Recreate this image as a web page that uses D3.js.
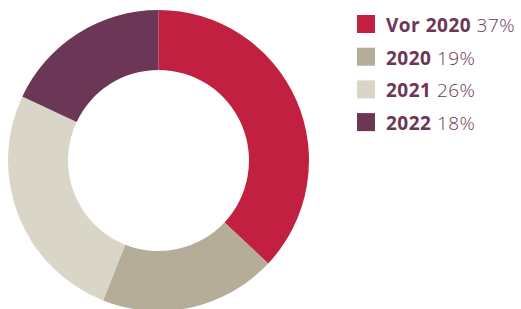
<!DOCTYPE html>
<html>
<head>
<meta charset="utf-8">
<script src="https://cdn.jsdelivr.net/npm/d3@7"></script>
<style>
  body { margin: 0; background: #fff; }
  svg { display: block; }
</style>
</head>
<body>
<script>
// categories and shares in percent
const labels = ["Vor 2020", "2020", "2021", "2022"];
const values = [37, 19, 26, 18];
const colors = ["#c12041", "#b5ad97", "#d9d5c7", "#6c3656"];

const width = 521, height = 309;
const cx = 158.5, cy = 160.5;
const outerR = 150.5, innerR = 90.5;

const svg = d3.select("body").append("svg")
  .attr("width", width)
  .attr("height", height);

const pie = d3.pie().sort(null).value(d => d);
const arc = d3.arc().innerRadius(innerR).outerRadius(outerR);

svg.append("g")
  .attr("transform", "translate(" + cx + "," + cy + ")")
  .selectAll("path")
  .data(pie(values))
  .join("path")
  .attr("d", arc)
  .attr("fill", (d, i) => colors[i]);

// legend
const legend = svg.append("g").attr("transform", "translate(357,15)");
const rows = legend.selectAll("g")
  .data(labels)
  .join("g")
  .attr("transform", (d, i) => "translate(0," + (i * 32.7) + ")");

rows.append("rect")
  .attr("width", 18).attr("height", 18)
  .attr("fill", (d, i) => colors[i]);

const txt = rows.append("text")
  .attr("x", 29).attr("y", 17)
  .attr("font-family", "'Open Sans', sans-serif")
  .attr("font-size", 19)
  .attr("letter-spacing", 0.5)
  .attr("fill", "#6c3656");
txt.append("tspan").attr("font-weight", 700).text(d => d);
txt.append("tspan").attr("font-weight", 300).text((d, i) => " " + values[i] + "%");
</script>
</body>
</html>
